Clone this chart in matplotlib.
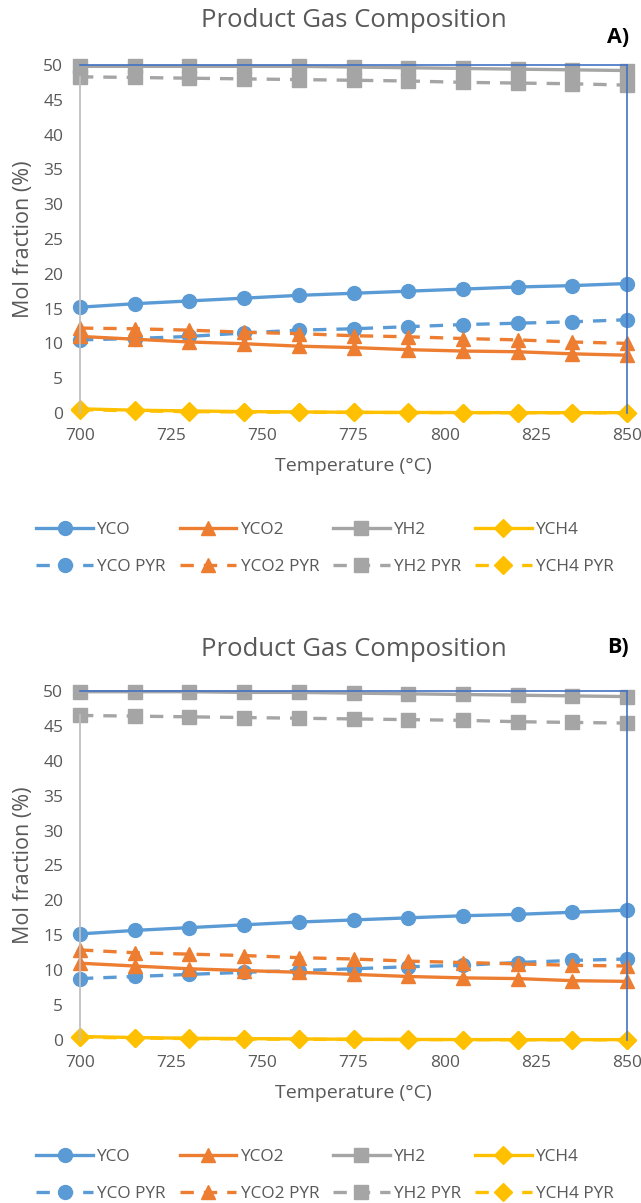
import matplotlib
matplotlib.use("Agg")
import matplotlib.pyplot as plt
import numpy as np

plt.rcParams['font.family'] = ['Open Sans', 'DejaVu Sans']

# temperatures (°C)
temps = [700, 715, 730, 745, 760, 775, 790, 805, 820, 835, 850]

# panel A
ycoA = [15.2, 15.7, 16.1, 16.5, 16.9, 17.2, 17.5, 17.8, 18.1, 18.3, 18.6]
yco2A = [11.0, 10.6, 10.2, 9.95, 9.6, 9.4, 9.1, 8.9, 8.8, 8.5, 8.3]
yh2A = [49.8, 49.8, 49.8, 49.8, 49.8, 49.7, 49.6, 49.5, 49.4, 49.3, 49.2]
ych4A = [0.6, 0.4, 0.3, 0.2, 0.15, 0.1, 0.08, 0.06, 0.05, 0.05, 0.05]
yco_pyrA = [10.5, 10.7, 11.0, 11.5, 11.9, 12.1, 12.4, 12.7, 12.9, 13.1, 13.4]
yco2_pyrA = [12.2, 12.1, 11.9, 11.6, 11.4, 11.1, 10.95, 10.7, 10.5, 10.2, 10.0]
yh2_pyrA = [48.3, 48.2, 48.1, 48.0, 47.9, 47.8, 47.7, 47.5, 47.4, 47.3, 47.1]
ych4_pyrA = [0.5, 0.3, 0.2, 0.15, 0.1, 0.08, 0.06, 0.05, 0.04, 0.03, 0.03]

# panel B
ycoB = [15.2, 15.7, 16.1, 16.5, 16.9, 17.2, 17.5, 17.8, 18.0, 18.3, 18.6]
yco2B = [11.0, 10.6, 10.2, 9.95, 9.7, 9.4, 9.1, 8.9, 8.8, 8.5, 8.4]
yh2B = [49.9, 49.9, 49.9, 49.8, 49.8, 49.7, 49.6, 49.5, 49.4, 49.3, 49.2]
ych4B = [0.5, 0.35, 0.25, 0.2, 0.15, 0.1, 0.08, 0.06, 0.05, 0.05, 0.05]
yco_pyrB = [8.8, 9.1, 9.4, 9.7, 9.95, 10.2, 10.5, 10.7, 11.1, 11.4, 11.6]
yco2_pyrB = [12.9, 12.5, 12.3, 12.1, 11.8, 11.6, 11.3, 11.1, 10.9, 10.7, 10.6]
yh2_pyrB = [46.5, 46.4, 46.3, 46.2, 46.1, 46.0, 45.9, 45.8, 45.6, 45.5, 45.4]
ych4_pyrB = [0.4, 0.3, 0.2, 0.15, 0.1, 0.08, 0.06, 0.05, 0.04, 0.03, 0.03]

xticks = [700, 725, 750, 775, 800, 825, 850]
yticks = [0, 5, 10, 15, 20, 25, 30, 35, 40, 45, 50]

names = ['YCO', 'YCO2', 'YH2', 'YCH4']
colors = ['#5B9BD5', '#ED7D31', '#A5A5A5', '#FFC000']
markers = ['o', '^', 's', 'D']
msizes = [10, 10, 10, 9]
txt = '#595959'


def panel(ax, solid, pyr, tag, tag_y, leg_y, title_pad):
    handles = {}
    for name, vals, c, m, ms in zip(names, pyr, colors, markers, msizes):
        h, = ax.plot(temps, vals, color=c, lw=2.4, ls=(0, (4, 3)), marker=m,
                     ms=ms, clip_on=False, label=name + ' PYR')
        handles[name + ' PYR'] = h
    for name, vals, c, m, ms in zip(names, solid, colors, markers, msizes):
        h, = ax.plot(temps, vals, color=c, lw=2.4, marker=m, ms=ms,
                     clip_on=False, label=name)
        handles[name] = h
    ax.set_xlim(700, 850)
    ax.set_ylim(0, 50)
    ax.set_xticks(xticks)
    ax.set_yticks(yticks)
    ax.tick_params(length=0, labelsize=12.5, colors=txt)
    ax.tick_params(axis='x', pad=11)
    ax.tick_params(axis='y', pad=12)
    ax.spines['bottom'].set_visible(False)
    ax.spines['left'].set_color('#BFBFBF')
    ax.spines['left'].set_linewidth(1.3)
    ax.spines['left'].set_bounds(0, pyr[2][0])
    ax.spines['top'].set_color('#4472C4')
    ax.spines['right'].set_color('#4472C4')
    ax.spines['top'].set_linewidth(1.2)
    ax.spines['right'].set_linewidth(1.2)
    ax.set_xlabel('Temperature (°C)', fontsize=14, color=txt, labelpad=9)
    ax.set_ylabel('Mol fraction (%)', fontsize=15.5, color=txt, labelpad=7)
    ax.set_title('Product Gas Composition', fontsize=18.5, color=txt,
                 pad=title_pad)
    ax.text(1.003, tag_y, tag, transform=ax.transAxes, fontsize=15.5,
            fontweight='bold', ha='right', va='center', color='black')
    order = ['YCO', 'YCO PYR', 'YCO2', 'YCO2 PYR', 'YH2', 'YH2 PYR',
             'YCH4', 'YCH4 PYR']
    ax.legend([handles[k] for k in order], order, ncol=4, loc='center',
              bbox_to_anchor=(0.448, leg_y), frameon=False, fontsize=12.4,
              labelcolor=txt, handlelength=3.3, columnspacing=0.8,
              handletextpad=0.25, labelspacing=1.2, borderpad=0)


fig = plt.figure(figsize=(6.41, 12.03), dpi=100)
axA = fig.add_axes([0.1248, 0.6567, 0.8534, 0.2893])
axB = fig.add_axes([0.1248, 0.1355, 0.8534, 0.2901])
panel(axA, [ycoA, yco2A, yh2A, ych4A],
      [yco_pyrA, yco2_pyrA, yh2_pyrA, ych4_pyrA], 'A)', 1.08, -0.39, 27)
panel(axB, [ycoB, yco2B, yh2B, ych4B],
      [yco_pyrB, yco2_pyrB, yh2_pyrB, ych4_pyrB], 'B)', 1.126, -0.389, 25)
fig.savefig('out.png', dpi=100)
